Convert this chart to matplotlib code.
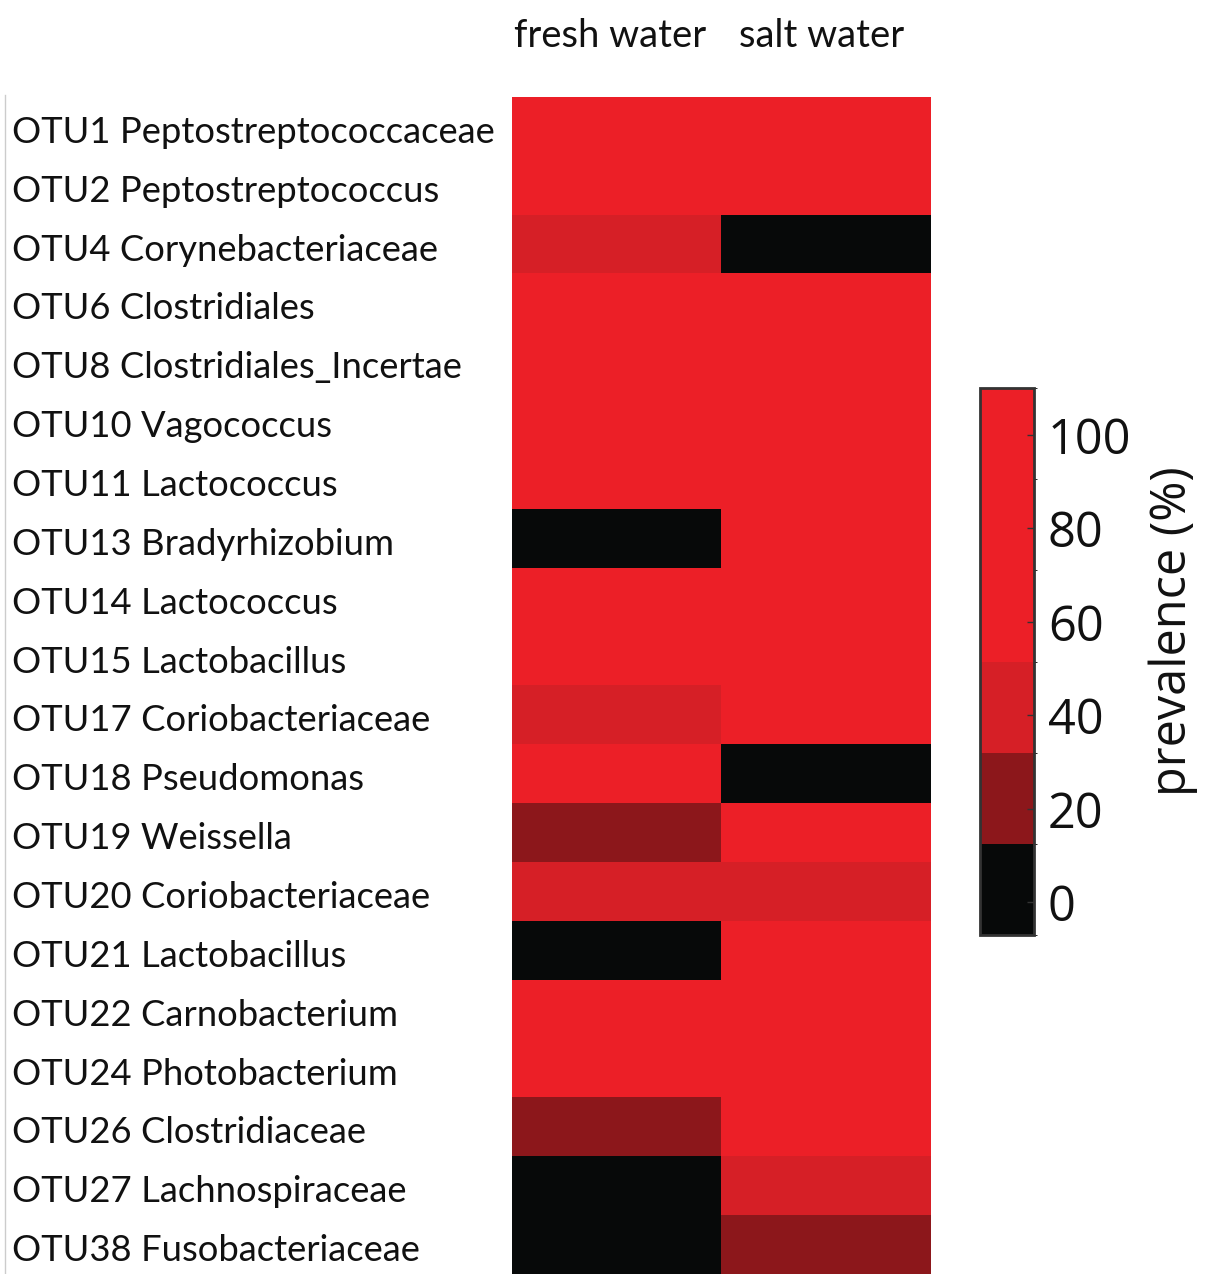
import numpy as np
import matplotlib
matplotlib.use("Agg")
from matplotlib import pyplot as plt
from matplotlib.colors import ListedColormap, BoundaryNorm
from matplotlib.transforms import blended_transform_factory, ScaledTranslation

otus = ['OTU1 Peptostreptococcaceae', 'OTU2 Peptostreptococcus', 'OTU4 Corynebacteriaceae',
        'OTU6 Clostridiales', 'OTU8 Clostridiales_Incertae', 'OTU10 Vagococcus',
        'OTU11 Lactococcus', 'OTU13 Bradyrhizobium', 'OTU14 Lactococcus',
        'OTU15 Lactobacillus', 'OTU17 Coriobacteriaceae', 'OTU18 Pseudomonas',
        'OTU19 Weissella', 'OTU20 Coriobacteriaceae', 'OTU21 Lactobacillus',
        'OTU22 Carnobacterium', 'OTU24 Photobacterium', 'OTU26 Clostridiaceae',
        'OTU27 Lachnospiraceae', 'OTU38 Fusobacteriaceae']
habitats = ['fresh water', 'salt water']

# prevalence (%) per OTU
fresh = [100, 100, 40, 100, 100, 100, 100, 0, 100, 100,
         40, 100, 20, 40, 0, 100, 100, 20, 0, 0]
salt = [100, 100, 0, 100, 100, 100, 100, 100, 100, 100,
        100, 0, 100, 40, 100, 100, 100, 100, 40, 20]
cb_ticks = [0, 20, 40, 60, 80, 100]

prev = np.column_stack([fresh, salt])

colors = ['#070909', '#8C171B', '#D61F26', '#EC1F27', '#EC1F27', '#EC1F27']
cmap = ListedColormap(colors)
bounds = np.linspace(-7, 110, len(colors) + 1)
norm = BoundaryNorm(bounds, cmap.N)

W, H = 1206, 1274
fig = plt.figure(figsize=(W / 100, H / 100), dpi=100)

ax = fig.add_axes([512 / W, 0, (931 - 512) / W, 1 - 97 / H])
im = ax.imshow(prev, cmap=cmap, norm=norm, aspect='auto', interpolation='nearest')
ax.set_xticks([])
ax.set_yticks([])
for s in ax.spines.values():
    s.set_visible(False)

lab_font = ['Lato', 'DejaVu Sans']
trans_rows = blended_transform_factory(fig.transFigure, ax.transData) + \
    ScaledTranslation(0, -3 / 100, fig.dpi_scale_trans)
for i, name in enumerate(otus):
    ax.text(12 / W, i, name, transform=trans_rows, ha='left', va='center_baseline',
            fontsize=26.2, family=lab_font, color='#111111')

trans_cols = blended_transform_factory(ax.transData, fig.transFigure)
col_x = [-0.03, 0.98]
for j, name in enumerate(habitats):
    ax.text(col_x[j], 1 - 36 / H, name, transform=trans_cols, ha='center', va='center',
            fontsize=27.5, family=lab_font, color='#111111')

# thin rule on the left of the labels
fig.add_artist(plt.Line2D([5 / W, 5 / W], [0, 1 - 95 / H], transform=fig.transFigure,
                          color='#cccccc', lw=1))

cax = fig.add_axes([980 / W, 1 - 935 / H, 54 / W, (935 - 388) / H])
cb = fig.colorbar(im, cax=cax, ticks=cb_ticks)
cb.outline.set_edgecolor('#333333')
cb.outline.set_linewidth(2)
cax.tick_params(direction='in', length=5, width=1, color='#333333', pad=10,
                labelsize=35)
for t in cax.get_yticklabels():
    t.set_family(['Open Sans', 'DejaVu Sans'])
    t.set_color('#111111')
cb.set_label('prevalence (%)', fontsize=35, family=['Open Sans', 'DejaVu Sans'],
             color='#111111')
cax.yaxis.set_label_coords(3.12, 0.555)

fig.savefig('out.png', dpi=100)
